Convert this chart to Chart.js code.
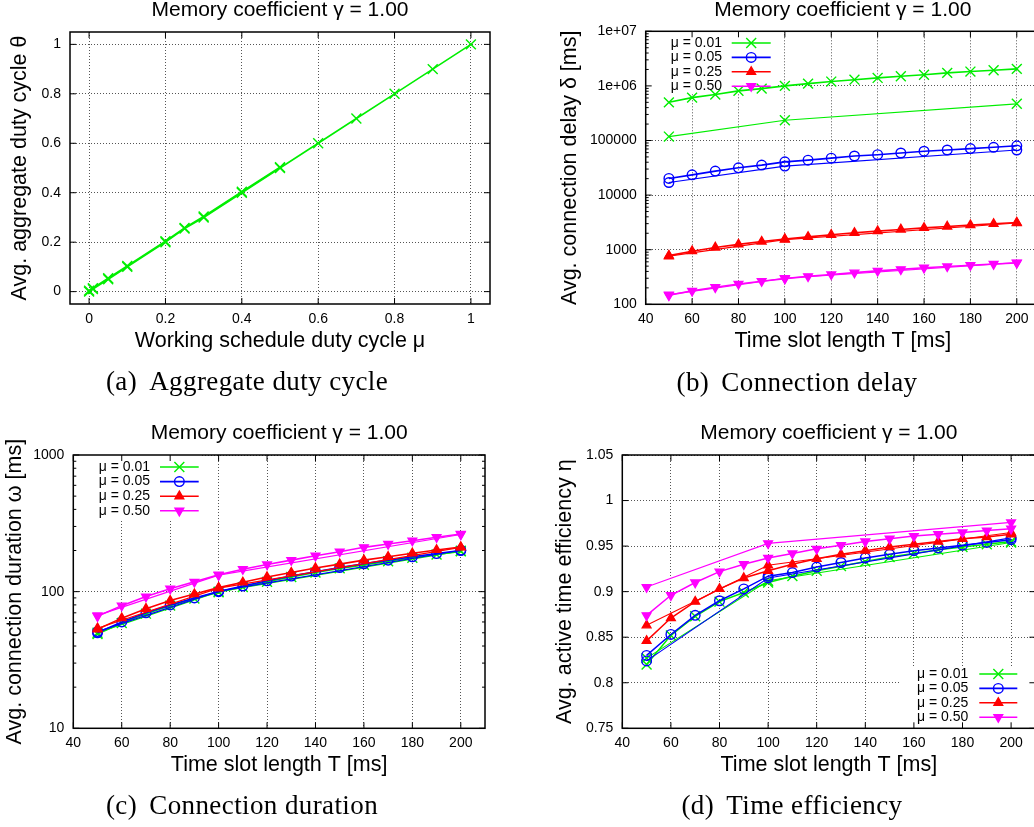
<!DOCTYPE html>
<html>
<head>
<meta charset="utf-8">
<script src="https://cdn.jsdelivr.net/npm/chart.js@4.4.0/dist/chart.umd.min.js"></script>
<style>
html, body { margin: 0; padding: 0; background: #fff; width: 1034px; height: 827px; overflow: hidden; }
#page { position: relative; width: 1034px; height: 827px; overflow: hidden; }
canvas { position: absolute; }
.cap { position: absolute; transform: translate(-50%, -50%); white-space: nowrap;
       font-family: "Liberation Serif", "DejaVu Serif", serif; font-size: 27px; letter-spacing: 0.4px; color: #000; }
.cap span + span { margin-left: 0.45em; }
</style>
</head>
<body>
<div id="page">
  <canvas id="chartA" width="500" height="380" style="left:0;top:0"></canvas>
  <canvas id="chartB" width="530" height="380" style="left:520px;top:0"></canvas>
  <canvas id="chartC" width="500" height="380" style="left:0;top:410px"></canvas>
  <canvas id="chartD" width="530" height="380" style="left:520px;top:410px"></canvas>
  <div class="cap" style="left:247px;top:381px"><span>(a)</span><span>Aggregate duty cycle</span></div>
  <div class="cap" style="left:797px;top:382px"><span>(b)</span><span>Connection delay</span></div>
  <div class="cap" style="left:242px;top:805px"><span>(c)</span><span>Connection duration</span></div>
  <div class="cap" style="left:792px;top:805px"><span>(d)</span><span>Time efficiency</span></div>
</div>
<script>
// ---- data ----
const title = 'Memory coefficient \u03b3 = 1.00';
const muLabels = ['\u03bc = 0.01', '\u03bc = 0.05', '\u03bc = 0.25', '\u03bc = 0.50'];

// (a) aggregate duty cycle
const muA = [0, 0.01, 0.05, 0.1, 0.2, 0.25, 0.3, 0.4, 0.5, 0.6, 0.7, 0.8, 0.9, 1];
const thetaA = [0, 0.01, 0.05, 0.1, 0.2, 0.255, 0.3, 0.4, 0.5, 0.6, 0.7, 0.8, 0.9, 1];
const muA2 = [0, 0.01, 0.05, 0.1, 0.2, 0.25, 0.3, 0.4, 0.5];
const thetaA2 = [0.004, 0.014, 0.054, 0.104, 0.204, 0.258, 0.304, 0.404, 0.503];
const ticksA = [0, 0.2, 0.4, 0.6, 0.8, 1];
const tickLabelsA = ['0', '0.2', '0.4', '0.6', '0.8', '1'];

// time slots (b, c, d)
const slots = [50, 60, 70, 80, 90, 100, 110, 120, 130, 140, 150, 160, 170, 180, 190, 200];
const slotsCoarse = [50, 100, 200];
const ticksT = [40, 60, 80, 100, 120, 140, 160, 180, 200];
const tickLabelsT = ['40', '60', '80', '100', '120', '140', '160', '180', '200'];

// (b) connection delay [ms]
const delay001 = [500000, 610000, 695000, 810000, 890000, 1000000, 1100000, 1200000, 1300000, 1400000, 1500000, 1600000, 1730000, 1830000, 1930000, 2050000];
const delay001c = [118000, 235000, 470000];
const delay005 = [20200, 23500, 27500, 31600, 35400, 40600, 43700, 47500, 52000, 55000, 59000, 63600, 67000, 71000, 75000, 80000];
const delay005c = [17000, 34000, 67000];
const delay025 = [780, 940, 1100, 1250, 1410, 1570, 1720, 1880, 2040, 2190, 2350, 2510, 2660, 2820, 2980, 3150];
const delay025c = [760, 1530, 3080];
const delay050 = [146, 176, 205, 236, 265, 295, 325, 352, 380, 410, 437, 466, 493, 520, 546, 572];
const delay050c = [150, 300, 580];
const ticksB = [100, 1000, 10000, 100000, 1000000, 10000000];
const tickLabelsB = ['100', '1000', '10000', '100000', '1e+06', '1e+07'];

// (c) connection duration [ms]
const dur001 = [49, 59, 69, 79, 89, 99, 108, 118, 128, 138, 148, 157, 167, 177, 187, 197];
const dur001c = [50, 100, 199];
const dur005 = [50, 60, 70, 80, 90, 100, 110, 120, 130, 140, 150, 160, 170, 180, 190, 200];
const dur005c = [51, 101, 201];
const dur025 = [53, 64, 75, 86, 96, 107, 117, 128, 138, 149, 159, 170, 180, 191, 202, 212];
const dur025c = [54, 106, 211];
const dur050 = [66, 79, 92, 105, 118, 133, 146, 158, 170, 183, 196, 211, 223, 236, 250, 264];
const dur050c = [67, 132, 262];
const ticksC = [10, 100, 1000];
const tickLabelsC = ['10', '100', '1000'];

// (d) active time efficiency
const eff001 = [0.820, 0.852, 0.873, 0.889, 0.899, 0.910, 0.917, 0.923, 0.928, 0.933, 0.938, 0.942, 0.946, 0.949, 0.952, 0.955];
const eff001c = [0.827, 0.912, 0.954];
const eff005 = [0.830, 0.853, 0.874, 0.890, 0.903, 0.917, 0.921, 0.927, 0.932, 0.937, 0.941, 0.945, 0.948, 0.951, 0.954, 0.957];
const eff005c = [0.824, 0.915, 0.959];
const eff025 = [0.846, 0.871, 0.889, 0.903, 0.915, 0.923, 0.930, 0.936, 0.941, 0.945, 0.949, 0.952, 0.955, 0.958, 0.960, 0.963];
const eff025c = [0.863, 0.929, 0.965];
const eff050 = [0.874, 0.896, 0.910, 0.922, 0.930, 0.937, 0.942, 0.947, 0.951, 0.955, 0.958, 0.961, 0.963, 0.965, 0.967, 0.969];
const eff050c = [0.905, 0.953, 0.976];
const ticksD = [0.75, 0.8, 0.85, 0.9, 0.95, 1, 1.05];
const tickLabelsD = ['0.75', '0.8', '0.85', '0.9', '0.95', '1', '1.05'];

// ---- styling ----
const FONT = "'Liberation Sans', Arial, Helvetica, sans-serif";
Chart.defaults.font.family = FONT;
Chart.defaults.color = '#000';
Chart.defaults.animation = false;

const GRID = '#555';
const TITLE_SIZE = 21;
const AXIS_SIZE = 21.5;
const styles = [
  { color: '#00ee00', point: 'crossRot', r: 7, rot: 0, fill: '#00ee00' },
  { color: '#0000ff', point: 'circle', r: 4.8, rot: 0, fill: 'rgba(0,0,0,0)' },
  { color: '#ff0000', point: 'triangle', r: 5, rot: 0, fill: '#ff0000' },
  { color: '#ff00ff', point: 'triangle', r: 5, rot: 180, fill: '#ff00ff' }
];

function lineSet(xs, ys, st, width) {
  return {
    data: xs.map((x, i) => ({ x: x, y: ys[i] })),
    borderColor: st.color,
    backgroundColor: st.fill,
    borderWidth: width,
    pointStyle: st.point,
    pointRadius: st.r,
    pointRotation: st.rot,
    pointBorderWidth: 1.4,
    pointHoverRadius: st.r,
    tension: 0,
    fill: false
  };
}

// border box, inward tick marks and key drawn like gnuplot
const framePlugin = {
  id: 'frame',
  beforeDatasetsDraw(chart, args, opts) {
    const lg = opts.legend;
    if (lg && lg.box) {
      const b = lg.box;
      chart.ctx.save();
      chart.ctx.fillStyle = '#fff';
      chart.ctx.fillRect(b[0], b[1], b[2] - b[0], b[3] - b[1]);
      chart.ctx.restore();
    }
  },
  afterDatasetsDraw(chart, args, opts) {
    const ctx = chart.ctx, a = chart.chartArea, x = chart.scales.x, y = chart.scales.y;
    const seg = (x1, y1, x2, y2) => { ctx.beginPath(); ctx.moveTo(x1, y1); ctx.lineTo(x2, y2); ctx.stroke(); };
    ctx.save();
    ctx.strokeStyle = '#000';
    ctx.lineWidth = 1;
    x.ticks.forEach(t => {
      const px = x.getPixelForValue(t.value);
      seg(px, a.bottom, px, a.bottom - 6);
      seg(px, a.top, px, a.top + 6);
    });
    y.ticks.forEach(t => {
      const py = y.getPixelForValue(t.value);
      seg(a.left, py, a.left + 6, py);
      seg(a.right, py, a.right - 6, py);
    });
    if (y.type === 'logarithmic') {
      for (let d = y.min; d < y.max; d *= 10) {
        for (let k = 2; k <= 9; k++) {
          const py = y.getPixelForValue(k * d);
          seg(a.left, py, a.left + 3, py);
          seg(a.right, py, a.right - 3, py);
        }
      }
    }
    ctx.lineWidth = 1.5;
    ctx.strokeRect(a.left, a.top, a.right - a.left, a.bottom - a.top);

    const lg = opts.legend;
    if (lg) {
      ctx.font = '14px ' + FONT;
      ctx.textAlign = 'right';
      ctx.textBaseline = 'middle';
      styles.forEach((st, i) => {
        const yy = lg.y0 + i * lg.dy;
        ctx.fillStyle = '#000';
        ctx.fillText(muLabels[i], lg.textRight, yy);
        ctx.strokeStyle = st.color;
        ctx.lineWidth = 1.6;
        seg(lg.x1, yy, lg.x2, yy);
        ctx.fillStyle = st.fill;
        ctx.lineWidth = 1.4;
        if (Chart.helpers && Chart.helpers.drawPoint) {
          Chart.helpers.drawPoint(ctx, { pointStyle: st.point, radius: st.r, rotation: st.rot, borderWidth: 1.4 }, (lg.x1 + lg.x2) / 2, yy);
        }
      });
    }
    ctx.restore();
  }
};

function makeChart(id, c) {
  return new Chart(document.getElementById(id), {
    type: 'line',
    data: { datasets: c.datasets.map((d, i, all) => Object.assign(d, { order: all.length - i })) },
    plugins: [framePlugin],
    options: {
      responsive: false,
      devicePixelRatio: 1,
      layout: { padding: { left: 0, top: 0, bottom: 0, right: c.w - c.right } },
      plugins: {
        legend: { display: false },
        tooltip: { enabled: false },
        title: {
          display: true, text: title, fullSize: false, color: '#000',
          font: { size: TITLE_SIZE, weight: 'normal', lineHeight: 1 },
          padding: { top: c.titleY - TITLE_SIZE / 2, bottom: c.top - c.titleY - TITLE_SIZE / 2 }
        },
        frame: { legend: c.legend }
      },
      scales: {
        x: {
          type: 'linear', min: c.xMin, max: c.xMax,
          afterBuildTicks: s => { s.ticks = c.xTicks.map(v => ({ value: v })); },
          afterFit: s => { s.height = c.h - c.bottom; },
          grid: { color: GRID, lineWidth: 1, drawTicks: false },
          border: { display: false, dash: [1, 2] },
          ticks: { padding: 6.6, autoSkip: false, maxRotation: 0, font: { size: 14 },
                   callback: (v, i) => c.xLabels[i] },
          title: { display: true, text: c.xTitle, font: { size: AXIS_SIZE, lineHeight: 1 },
                   padding: { top: 0, bottom: c.h - c.xTitleY - AXIS_SIZE / 2 } }
        },
        y: {
          type: c.yType, min: c.yMin, max: c.yMax,
          afterBuildTicks: s => { s.ticks = c.yTicks.map(v => ({ value: v })); },
          afterFit: s => { s.width = c.left; },
          grid: { color: GRID, lineWidth: 1, drawTicks: false },
          border: { display: false, dash: [1, 2] },
          ticks: { padding: 9, autoSkip: false, font: { size: 14 },
                   callback: (v, i) => c.yLabels[i] },
          title: { display: true, text: c.yTitle, font: { size: AXIS_SIZE, lineHeight: 1 },
                   padding: { top: c.yTitleX - AXIS_SIZE / 2, bottom: 0 } }
        }
      }
    }
  });
}

makeChart('chartA', {
  w: 500, h: 380, left: 70, top: 32, bottom: 304, right: 490,
  titleY: 10, xTitleY: 340.7, yTitleX: 20,
  xMin: -0.05, xMax: 1.05, xTicks: ticksA, xLabels: tickLabelsA,
  yType: 'linear', yMin: -0.05, yMax: 1.05, yTicks: ticksA, yLabels: tickLabelsA,
  xTitle: 'Working schedule duty cycle \u03bc',
  yTitle: 'Avg. aggregate duty cycle \u03b8',
  datasets: [
    lineSet(muA, thetaA, styles[0], 1.6),
    lineSet(muA2, thetaA2, styles[0], 1.6)
  ]
});

makeChart('chartB', {
  w: 530, h: 380, left: 125.7, top: 31.3, bottom: 304.3, right: 520,
  titleY: 10, xTitleY: 340.7, yTitleX: 50,
  xMin: 40, xMax: 210, xTicks: ticksT, xLabels: tickLabelsT,
  yType: 'logarithmic', yMin: 100, yMax: 10000000, yTicks: ticksB, yLabels: tickLabelsB,
  xTitle: 'Time slot length T [ms]',
  yTitle: 'Avg. connection delay \u03b4 [ms]',
  legend: { textRight: 202, x1: 211.7, x2: 250.7, y0: 43, dy: 14.4, box: [125.7, 31.3, 256, 93] },
  datasets: [
    lineSet(slots, delay001, styles[0], 1.6), lineSet(slotsCoarse, delay001c, styles[0], 1.2),
    lineSet(slots, delay005, styles[1], 1.6), lineSet(slotsCoarse, delay005c, styles[1], 1.2),
    lineSet(slots, delay025, styles[2], 1.6), lineSet(slotsCoarse, delay025c, styles[2], 1.2),
    lineSet(slots, delay050, styles[3], 1.6), lineSet(slotsCoarse, delay050c, styles[3], 1.2)
  ]
});

makeChart('chartC', {
  w: 500, h: 380, left: 73.3, top: 45, bottom: 318.3, right: 485,
  titleY: 23.3, xTitleY: 355, yTitleX: 15,
  xMin: 40, xMax: 210, xTicks: ticksT, xLabels: tickLabelsT,
  yType: 'logarithmic', yMin: 10, yMax: 1000, yTicks: ticksC, yLabels: tickLabelsC,
  xTitle: 'Time slot length T [ms]',
  yTitle: 'Avg. connection duration \u03c9 [ms]',
  legend: { textRight: 150, x1: 160, x2: 198.7, y0: 57, dy: 14.6, box: [73.3, 45, 201, 109] },
  datasets: [
    lineSet(slots, dur001, styles[0], 1.6), lineSet(slotsCoarse, dur001c, styles[0], 1.2),
    lineSet(slots, dur005, styles[1], 1.6), lineSet(slotsCoarse, dur005c, styles[1], 1.2),
    lineSet(slots, dur025, styles[2], 1.6), lineSet(slotsCoarse, dur025c, styles[2], 1.2),
    lineSet(slots, dur050, styles[3], 1.6), lineSet(slotsCoarse, dur050c, styles[3], 1.2)
  ]
});

makeChart('chartD', {
  w: 530, h: 380, left: 102.3, top: 45, bottom: 318.3, right: 515.4,
  titleY: 23.3, xTitleY: 355, yTitleX: 45,
  xMin: 40, xMax: 210, xTicks: ticksT, xLabels: tickLabelsT,
  yType: 'linear', yMin: 0.75, yMax: 1.05, yTicks: ticksD, yLabels: tickLabelsD,
  xTitle: 'Time slot length T [ms]',
  yTitle: 'Avg. active time efficiency \u03b7',
  legend: { textRight: 448.3, x1: 459.3, x2: 497.3, y0: 264, dy: 14.4, box: [380, 256.7, 515.4, 318.3] },
  datasets: [
    lineSet(slots, eff001, styles[0], 1.5), lineSet(slotsCoarse, eff001c, styles[0], 1.1),
    lineSet(slots, eff005, styles[1], 1.5), lineSet(slotsCoarse, eff005c, styles[1], 1.1),
    lineSet(slots, eff025, styles[2], 1.5), lineSet(slotsCoarse, eff025c, styles[2], 1.1),
    lineSet(slots, eff050, styles[3], 1.5), lineSet(slotsCoarse, eff050c, styles[3], 1.1)
  ]
});
</script>
</body>
</html>
